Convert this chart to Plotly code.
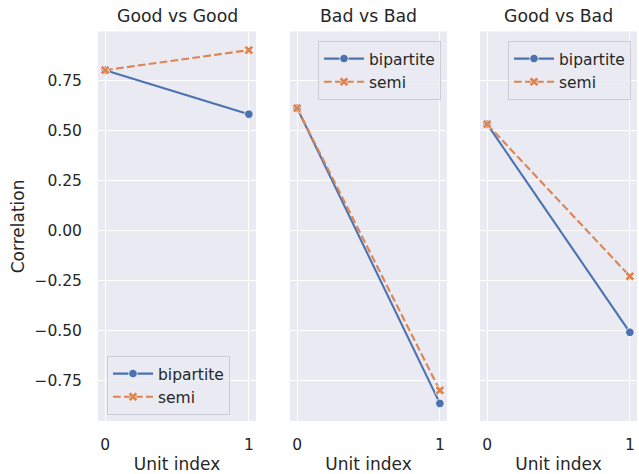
import plotly.graph_objects as go

panels = ["Good vs Good", "Bad vs Bad", "Good vs Bad"]
unit_index = [0, 1]
bipartite = [[0.80, 0.58], [0.61, -0.865], [0.53, -0.51]]
semi = [[0.80, 0.90], [0.61, -0.80], [0.53, -0.23]]
y_ticks = [-0.75, -0.50, -0.25, 0.00, 0.25, 0.50, 0.75]
y_tick_labels = ["\u22120.75", "\u22120.50", "\u22120.25", "0.00", "0.25", "0.50", "0.75"]

BLUE = "#4C72B0"
ORANGE = "#DD8452"
BG = "#EAEAF2"
TXT = "#262626"
FONT = "DejaVu Sans"

domains = [[98/639, 256/639], [290/639, 447/639], [480/639, 637/639]]
ydom = [1 - 421/474, 1 - 31.5/474]
legend_names = ["legend", "legend2", "legend3"]

fig = go.Figure()
for i, name in enumerate(panels):
    xa = "x" if i == 0 else f"x{i+1}"
    ya = "y" if i == 0 else f"y{i+1}"
    fig.add_trace(go.Scatter(
        x=unit_index, y=bipartite[i], mode="lines+markers", name="bipartite",
        line=dict(color=BLUE, width=2.1),
        marker=dict(symbol="circle", size=8.5, color=BLUE, line=dict(color="white", width=0.75)),
        xaxis=xa, yaxis=ya, legend=legend_names[i]))
    fig.add_trace(go.Scatter(
        x=unit_index, y=semi[i], mode="lines+markers", name="semi",
        line=dict(color=ORANGE, width=2.1, dash="7.7px,3.3px"),
        marker=dict(symbol="x", size=8.5, color=ORANGE, line=dict(color="white", width=0.75)),
        xaxis=xa, yaxis=ya, legend=legend_names[i]))

layout = dict(
    width=639, height=474,
    margin=dict(l=0, r=0, t=0, b=0),
    paper_bgcolor="white", plot_bgcolor=BG,
    font=dict(family=FONT, color=TXT, size=15),
    annotations=[],
)
for i in range(3):
    sfx = "" if i == 0 else str(i+1)
    layout["xaxis" + sfx] = dict(
        domain=domains[i], anchor="y" + sfx, range=[-0.05, 1.05],
        tickvals=unit_index, ticktext=["0", "1"],
        showgrid=True, gridcolor="white", gridwidth=1.2, zeroline=False,
        ticks="outside", ticklen=9, tickcolor="rgba(0,0,0,0)",
        tickfont=dict(size=15.5, color=TXT, family=FONT),
        title=dict(text="Unit index", font=dict(size=17, color=TXT, family=FONT), standoff=9),
        showline=False, fixedrange=True,
    )
    layout["yaxis" + sfx] = dict(
        domain=ydom, anchor="x" + sfx, range=[-0.953, 0.993],
        tickvals=y_ticks, ticktext=y_tick_labels, showticklabels=(i == 0),
        showgrid=True, gridcolor="white", gridwidth=1.2, zeroline=False,
        ticks="outside" if i == 0 else "", ticklen=12, tickcolor="rgba(0,0,0,0)",
        tickfont=dict(size=15.5, color=TXT, family=FONT),
        showline=False, fixedrange=True,
    )
    if i > 0:
        layout["yaxis" + sfx]["matches"] = "y"
    layout["annotations"].append(dict(
        text=panels[i], x=(domains[i][0] + domains[i][1]) / 2, y=1 - 16/474,
        xref="paper", yref="paper", showarrow=False, xanchor="center", yanchor="middle",
        font=dict(size=17.3, color=TXT, family=FONT)))

layout["annotations"].append(dict(
    text="Correlation", x=18/639, y=(ydom[0] + ydom[1]) / 2, xref="paper", yref="paper",
    textangle=-90, showarrow=False, xanchor="center", yanchor="middle",
    font=dict(size=17, color=TXT, family=FONT)))

leg_common = dict(bgcolor="rgba(234,234,242,0.8)", bordercolor="#CCCCD4", borderwidth=1,
                  font=dict(size=15.5, color=TXT, family=FONT), tracegroupgap=0, itemwidth=40)
layout["legend"] = dict(x=107/639, y=1 - 415/474, xanchor="left", yanchor="bottom", **leg_common)
layout["legend2"] = dict(x=441/639, y=1 - 41/474, xanchor="right", yanchor="top", **leg_common)
layout["legend3"] = dict(x=631/639, y=1 - 41/474, xanchor="right", yanchor="top", **leg_common)

fig.update_layout(**layout)
fig.write_html("out.html", config={"displayModeBar": False},
               post_script="document.body.style.margin='0';document.body.style.overflow='hidden';")
